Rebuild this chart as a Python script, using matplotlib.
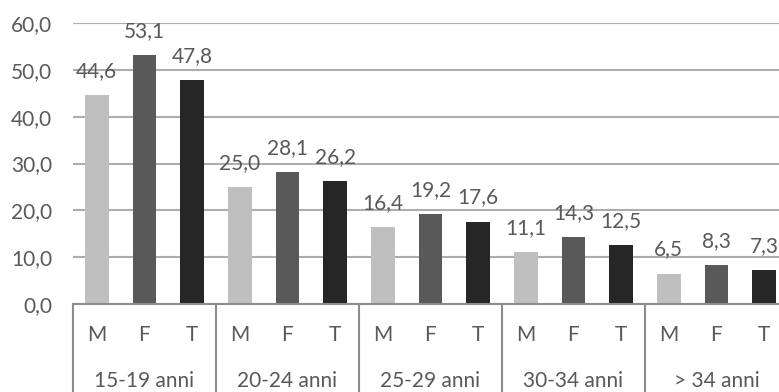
import matplotlib
matplotlib.use("Agg")
import matplotlib.pyplot as plt
from matplotlib.transforms import blended_transform_factory

plt.rcParams['font.family'] = ['Lato', 'DejaVu Sans']

# tassi per classe di eta' e sesso
gruppi = ['15-19 anni', '20-24 anni', '25-29 anni', '30-34 anni', '> 34 anni']
sessi = ['M', 'F', 'T']
maschi = [44.6, 25.0, 16.4, 11.1, 6.5]
femmine = [53.1, 28.1, 19.2, 14.3, 8.3]
totale = [47.8, 26.2, 17.6, 12.5, 7.3]
colori = ['#BFBFBF', '#595959', '#262626']
yticks = [0, 10, 20, 30, 40, 50, 60]

W, H = 779, 392
FS = 15
fig = plt.figure(figsize=(W / 100, H / 100), dpi=100)
# l'area del grafico continua oltre il bordo destro
ax = fig.add_axes([73 / W, 88 / H, 715 / W, 281 / H])

testo = '#595959'
serie = [maschi, femmine, totale]
for s, valori in enumerate(serie):
    xs = [g * 3 + s for g in range(len(gruppi))]
    bars = ax.bar(xs, valori, width=0.5, color=colori[s], zorder=3)
    for b, v in zip(bars, valori):
        ax.annotate(f"{v:.1f}".replace('.', ','),
                    (b.get_x() + b.get_width() / 2, v),
                    xytext=(0, 13), textcoords='offset points',
                    ha='center', va='baseline', fontsize=FS, color=testo)

ax.set_xlim(-0.5, len(gruppi) * 3 - 0.5)
ax.set_ylim(0, 60)
ax.set_yticks(yticks)
ax.set_yticklabels([f"{t:.1f}".replace('.', ',') for t in yticks],
                   fontsize=FS, color=testo)
ax.tick_params(axis='y', length=0, pad=15)
ax.set_xticks([])
ax.yaxis.grid(True, color='#ADADAD', linewidth=1.5, zorder=0)
for sp in ax.spines.values():
    sp.set_visible(False)

# asse delle categorie a due livelli
tr = blended_transform_factory(ax.transData, fig.transFigure)
y0 = 88 / H
ax.plot([-0.5, len(gruppi) * 3 - 0.5], [y0, y0], transform=tr,
        color='#8C8C8C', linewidth=1.5, clip_on=False, zorder=4)
for g in range(len(gruppi) + 1):
    ax.plot([g * 3 - 0.5] * 2, [0, y0], transform=tr,
            color='#8C8C8C', linewidth=1.5, clip_on=False)
for g, nome in enumerate(gruppi):
    for s, lab in enumerate(sessi):
        ax.text(g * 3 + s, (H - 335) / H, lab, transform=tr,
                ha='center', va='center', fontsize=FS, color=testo)
    ax.text(g * 3 + 1, (H - 381) / H, nome, transform=tr,
            ha='center', va='center', fontsize=FS, color=testo)

fig.savefig('out.png', dpi=100)
